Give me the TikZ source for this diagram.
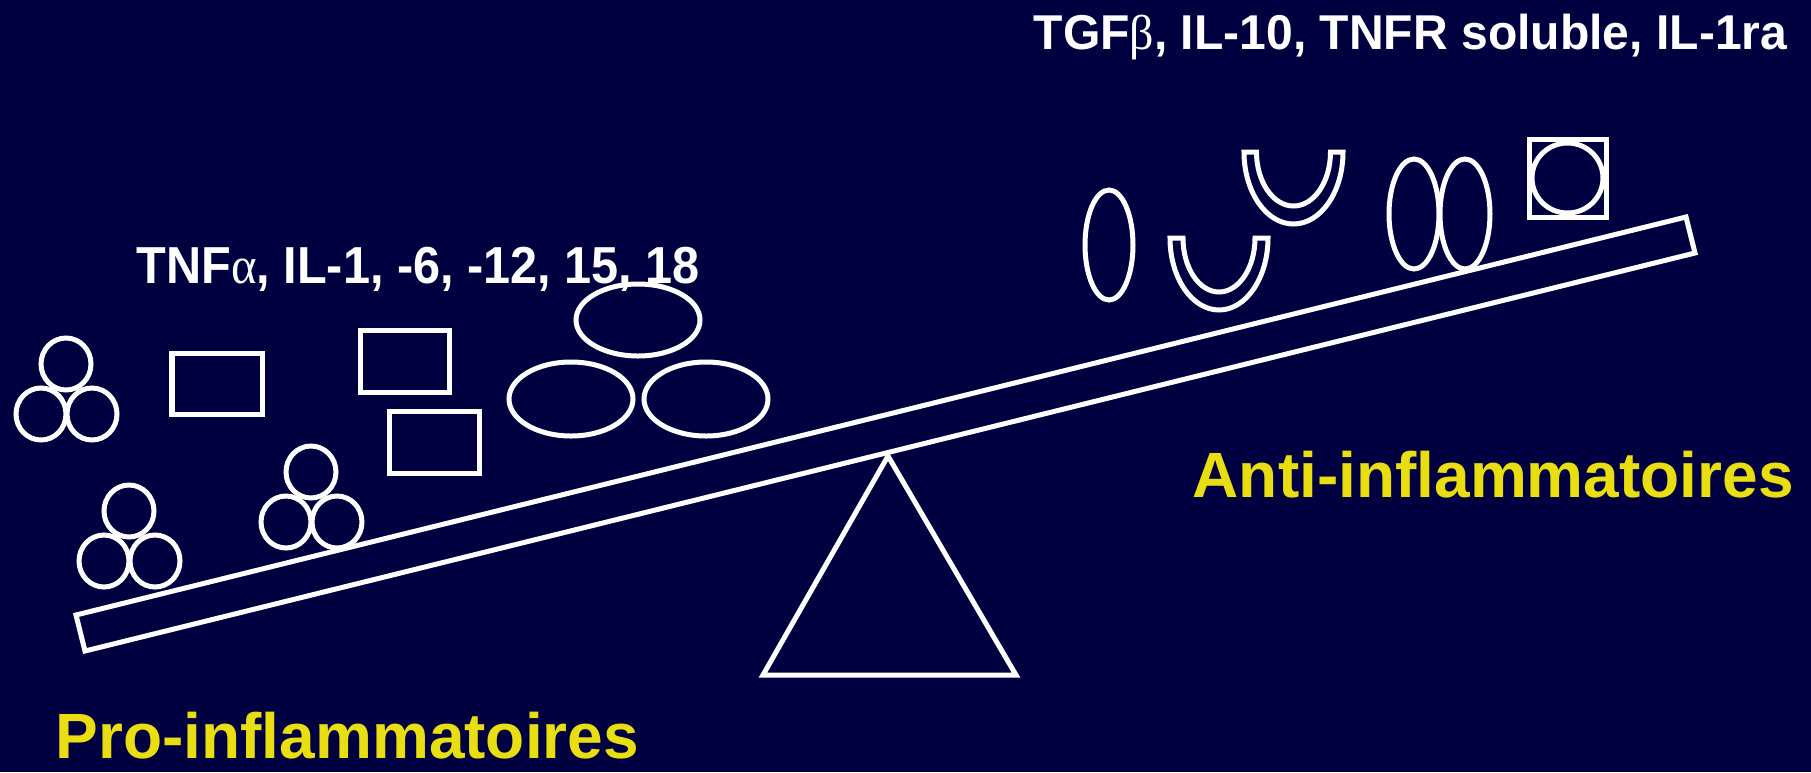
\documentclass[tikz,border=0pt]{standalone}
\usepackage{fontspec}
\usepackage{graphicx}
\setmainfont{Liberation Sans}
\newfontfamily\greekserif{Liberation Serif}
\definecolor{navy}{RGB}{0,0,64}
\definecolor{lemon}{RGB}{233,222,18}
\tikzset{
  outline/.style={draw=white, line width=0.05cm, line join=miter},
  cytokine/.style={inner sep=0pt, anchor=base west, text=white,
    font=\fontsize{14.8}{17}\selectfont\bfseries},
  family/.style={inner sep=0pt, anchor=base west, text=lemon,
    font=\fontsize{18.2}{21}\selectfont\bfseries},
}
% a U-shaped receptor: centre of the opening, outer and inner radii
\newcommand{\ushape}[5]{%
  \draw[outline] ($(#1)+(#2,0)$) arc[start angle=0, end angle=180, x radius=#2, y radius=#3]
    -- ($(#1)+(-#4,0)$) arc[start angle=180, end angle=0, x radius=#4, y radius=#5] -- cycle;}
% three stacked round cells
\newcommand{\trio}[1]{%
  \draw[outline] ($(#1)+(0,-50)$) ellipse[x radius=25, y radius=26];
  \draw[outline] ($(#1)+(-25,0)$) ellipse[x radius=25, y radius=26];
  \draw[outline] ($(#1)+(26,0)$) ellipse[x radius=25, y radius=26];}
\usetikzlibrary{calc}
\begin{document}
\begin{tikzpicture}[x=0.01cm, y=-0.01cm]
  \fill[navy] (0,0) rectangle (1811,772);
  \useasboundingbox (0,0) rectangle (1811,772);

  % see-saw: tilted beam on a triangular pivot
  \draw[outline] (76,615) -- (1686,217) -- (1695,253) -- (85,651) -- cycle;
  \draw[outline] (888,456) -- (1016,675) -- (763,675) -- cycle;

  % pro-inflammatory side
  \trio{66,414}
  \trio{129,561}
  \trio{311,522}
  \draw[outline] (172,353) rectangle (262,414);
  \draw[outline] (360,330) rectangle (449,392);
  \draw[outline] (389,411) rectangle (479,473);
  \draw[outline] (638,320) ellipse[x radius=62, y radius=36];
  \draw[outline] (571,399) ellipse[x radius=62, y radius=37];
  \draw[outline] (706,399) ellipse[x radius=62, y radius=37];

  % anti-inflammatory side
  \draw[outline] (1109,245) ellipse[x radius=24, y radius=55];
  \ushape{1219,238}{49}{72}{36}{54}
  \ushape{1293.5,152}{49.5}{72}{37}{54}
  \draw[outline] (1414,214) ellipse[x radius=25, y radius=55];
  \draw[outline] (1465,214) ellipse[x radius=25, y radius=55];
  \draw[outline] (1529,139) rectangle (1606,217);
  \draw[outline] (1567.5,178) ellipse[x radius=35.5, y radius=35];

  % labels
  \node[cytokine] (pro-list) at (136,283)
    {\resizebox{5.63cm}{\height}{TNF{\greekserif\mdseries α}, IL-1, -6, -12, 15, 18}};
  \node[cytokine, font=\fontsize{13.9}{16}\selectfont\bfseries] (anti-list) at (1033,49.5)
    {\resizebox{7.53cm}{\height}{TGF{\greekserif\mdseries β}, IL-10, TNFR soluble, IL-1ra}};
  \node[family] (anti) at (1192,497) {Anti-inflammatoires};
  \node[family] (pro) at (55,758) {Pro-inflammatoires};
\end{tikzpicture}
\end{document}
